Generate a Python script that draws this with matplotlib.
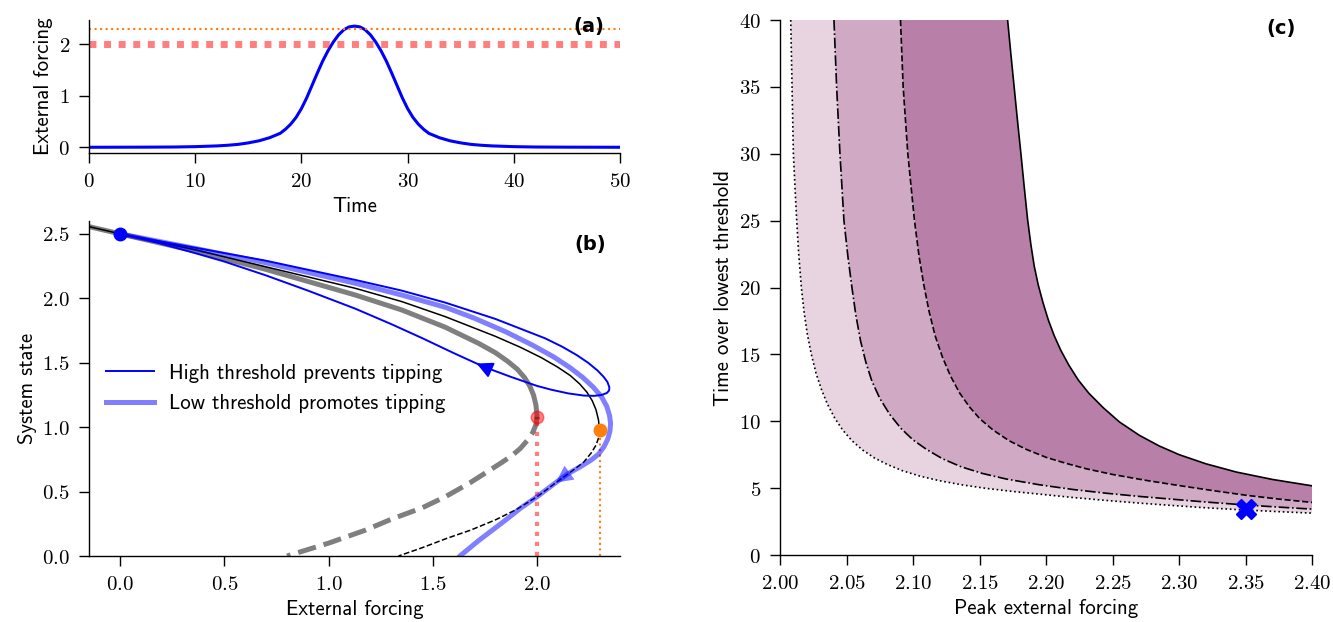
import numpy as np
import matplotlib
matplotlib.use('Agg')
import matplotlib.pyplot as plt
from matplotlib.ticker import FuncFormatter

plt.rcParams['font.family'] = ['cmss10', 'DejaVu Sans']
plt.rcParams['mathtext.fontset'] = 'cm'
plt.rcParams['axes.unicode_minus'] = False
plt.rcParams['font.size'] = 15
plt.rcParams['axes.spines.top'] = False
plt.rcParams['axes.spines.right'] = False
plt.rcParams['axes.linewidth'] = 1.0
for ax_name in ['xtick', 'ytick']:
    plt.rcParams[ax_name + '.major.size'] = 7.2
    plt.rcParams[ax_name + '.major.width'] = 1.0
    plt.rcParams[ax_name + '.major.pad'] = 6.5

# ---- (a) forcing over time ----
time = [0, 5, 8, 10, 12, 13, 14, 15, 16, 17, 18, 18.5, 19, 19.5, 20, 20.5, 21, 21.5,
        22, 22.5, 23, 23.5, 24, 24.5, 25, 25.5, 26, 26.5, 27, 27.5, 28, 28.5, 29,
        29.5, 30, 30.5, 31, 31.5, 32, 33, 34, 35, 36, 37, 38, 40, 42, 45, 50]
forcing = [0.0, 0.002, 0.005, 0.012, 0.026, 0.038, 0.055, 0.085, 0.125, 0.185, 0.27, 0.35,
           0.45, 0.58, 0.75, 0.96, 1.2, 1.44, 1.67, 1.87, 2.04, 2.18, 2.28, 2.335, 2.35,
           2.335, 2.28, 2.18, 2.04, 1.87, 1.67, 1.44, 1.2, 0.96, 0.75, 0.58, 0.45, 0.35,
           0.27, 0.185, 0.125, 0.085, 0.055, 0.038, 0.026, 0.012, 0.005, 0.002, 0.0]
low_threshold = 2.0
high_threshold = 2.3

# ---- (b) bifurcation diagrams and trajectories ----
# low threshold system (grey), stable branch ending at the fold
low_stable_f = [-0.2, 0.0, 0.35, 0.695, 1.127, 1.35, 1.559, 1.72, 1.80, 1.86, 1.905, 1.94,
                1.965, 1.983, 1.995, 2.0]
low_stable_s = [2.575, 2.5, 2.37, 2.226, 2.026, 1.91, 1.776, 1.65, 1.578, 1.51, 1.45, 1.385,
                1.32, 1.25, 1.17, 1.08]
low_unstable_f = [2.0, 1.995, 1.98, 1.955, 1.92, 1.88, 1.83, 1.775, 1.68, 1.56, 1.45, 1.3,
                  1.175, 1.0, 0.8]
low_unstable_s = [1.08, 1.02, 0.96, 0.90, 0.835, 0.78, 0.725, 0.668, 0.57, 0.46, 0.375,
                  0.285, 0.2, 0.1, 0.0]
# high threshold system (black)
high_stable_f = [-0.2, 0.0, 0.35, 0.695, 1.127, 1.35, 1.559, 1.8, 1.92, 2.02, 2.10, 2.16,
                 2.205, 2.24, 2.265, 2.283, 2.295, 2.3]
high_stable_s = [2.575, 2.5, 2.38, 2.246, 2.078, 1.975, 1.858, 1.705, 1.62, 1.54, 1.465,
                 1.40, 1.335, 1.27, 1.205, 1.135, 1.055, 0.98]
high_unstable_f = [2.3, 2.296, 2.283, 2.26, 2.225, 2.185, 2.1, 2.0, 1.9, 1.8, 1.68, 1.567,
                   1.45, 1.335]
high_unstable_s = [0.98, 0.92, 0.86, 0.80, 0.73, 0.68, 0.58, 0.46, 0.36, 0.28, 0.2, 0.137,
                   0.065, 0.0]
# trajectories
traj_high_f = [0.0, 0.3, 0.695, 1.127, 1.35, 1.559, 1.8, 2.038, 2.12, 2.19, 2.245, 2.29,
               2.32, 2.338, 2.347, 2.346, 2.335, 2.31, 2.275, 2.225, 2.15, 2.07, 2.0, 1.875,
               1.75, 1.71, 1.6, 1.45, 1.3, 1.127, 0.9, 0.695, 0.5, 0.35, 0.17, 0.0]
traj_high_s = [2.5, 2.41, 2.293, 2.143, 2.06, 1.967, 1.84, 1.69, 1.625, 1.56, 1.5, 1.44,
               1.39, 1.35, 1.31, 1.285, 1.265, 1.25, 1.243, 1.245, 1.262, 1.29, 1.32, 1.39,
               1.465, 1.494, 1.575, 1.69, 1.80, 1.92, 2.06, 2.18, 2.285, 2.355, 2.435, 2.5]
traj_low_f = [0.0, 0.35, 0.695, 1.127, 1.35, 1.559, 1.7, 1.85, 1.98, 2.08, 2.16, 2.22,
              2.27, 2.31, 2.335, 2.348, 2.353, 2.35, 2.34, 2.322, 2.295, 2.26, 2.21, 2.15,
              2.09, 2.0, 1.92, 1.85, 1.72, 1.63, 1.6]
traj_low_s = [2.5, 2.39, 2.277, 2.117, 2.026, 1.931, 1.845, 1.74, 1.635, 1.545, 1.46, 1.385,
              1.31, 1.235, 1.16, 1.09, 1.03, 0.97, 0.91, 0.85, 0.79, 0.745, 0.695, 0.64,
              0.57, 0.46, 0.37, 0.28, 0.12, 0.0, -0.05]
arrow_high = 25   # index of arrow tip on the high-threshold trajectory
arrow_low = 24    # index of arrow tip on the low-threshold trajectory

# ---- (c) tipping boundaries ----
dotted_f = [2.008, 2.009, 2.010, 2.0112, 2.0125, 2.014, 2.016, 2.018, 2.0205, 2.0235, 2.027,
            2.031, 2.0355, 2.041, 2.047, 2.054, 2.062, 2.071, 2.081, 2.092, 2.105, 2.12,
            2.137, 2.155, 2.175, 2.195, 2.22, 2.245, 2.27, 2.295, 2.32, 2.35, 2.375, 2.40]
dotted_t = [40, 35, 30, 27.5, 25, 22.5, 20, 18.2, 16.5, 15.0, 13.6, 12.4, 11.3, 10.25, 9.35,
            8.55, 7.85, 7.25, 6.75, 6.3, 5.9, 5.55, 5.24, 4.98, 4.75, 4.55, 4.3, 4.08, 3.88,
            3.7, 3.53, 3.36, 3.24, 3.13]
dashdot_f = [2.0405, 2.0425, 2.045, 2.048, 2.051, 2.054, 2.057, 2.0605, 2.0645, 2.069, 2.075,
             2.0825, 2.091, 2.10, 2.11, 2.122, 2.136, 2.152, 2.17, 2.195, 2.22, 2.245, 2.27,
             2.295, 2.32, 2.35, 2.375, 2.40]
dashdot_t = [40, 35, 30, 25, 22.3, 20, 17.9, 16.0, 14.4, 13.0, 11.7, 10.5, 9.45, 8.6, 7.9,
             7.2, 6.6, 6.1, 5.68, 5.25, 4.9, 4.62, 4.38, 4.17, 3.96, 3.74, 3.58, 3.43]
dashed_f = [2.0905, 2.0925, 2.096, 2.101, 2.1045, 2.108, 2.112, 2.1165, 2.122, 2.128, 2.135,
            2.1425, 2.15, 2.16, 2.172, 2.185, 2.2, 2.215, 2.23, 2.25, 2.275, 2.30, 2.325,
            2.35, 2.375, 2.40]
dashed_t = [40, 35, 30, 25, 22.3, 20.2, 18.2, 16.4, 14.8, 13.4, 12.1, 11.05, 10.2, 9.35,
            8.55, 7.9, 7.3, 6.85, 6.45, 6.02, 5.58, 5.19, 4.82, 4.47, 4.18, 3.93]
solid_f = [2.171, 2.1735, 2.176, 2.1785, 2.181, 2.1835, 2.186, 2.1885, 2.191, 2.194, 2.1975,
           2.2015, 2.206, 2.211, 2.217, 2.224, 2.232, 2.243, 2.255, 2.27, 2.285, 2.30, 2.32,
           2.343, 2.37, 2.40]
solid_t = [40, 37.4, 34.9, 32.4, 30, 27.5, 25.1, 23.2, 21.6, 20.2, 18.9, 17.6, 16.4, 15.3,
           14.2, 13.1, 12.1, 11.0, 9.95, 8.95, 8.15, 7.5, 6.82, 6.2, 5.65, 5.17]
example_peak = 2.35
example_time = 3.43

fill_colors = ['#e8d4e1', '#d0a9c5', '#b880a8']

fig = plt.figure(figsize=(13.33, 6.22), dpi=100)
ax_a = fig.add_axes([0.0668, 0.7535, 0.3983, 0.2143])
ax_b = fig.add_axes([0.0668, 0.1061, 0.3986, 0.5386])
ax_c = fig.add_axes([0.5852, 0.1077, 0.3993, 0.8601])

# panel a
ax_a.plot(time, forcing, color='blue', lw=2.2)
ax_a.axhline(high_threshold, color='C1', ls=':', lw=1.5)
ax_a.axhline(low_threshold, color='red', alpha=0.5, ls=(0, (1, 1.1)), lw=5)
ax_a.set_xlim(0, 50)
ax_a.set_xticks([0, 10, 20, 30, 40, 50])
ax_a.set_yticks([0, 1, 2])
ax_a.xaxis.set_major_formatter(FuncFormatter(lambda v, p: f'${v:.0f}$'))
ax_a.yaxis.set_major_formatter(FuncFormatter(lambda v, p: f'${v:.0f}$'))
ax_a.set_xlabel('Time')
ax_a.set_ylabel('External forcing')
ax_a.text(0.97, 0.95, '(a)', transform=ax_a.transAxes, ha='right', va='center',
          fontweight='bold', family='DejaVu Sans', fontsize=14)

# panel b
ax_b.plot(low_stable_f, low_stable_s, color='k', alpha=0.5, lw=3.6)
ax_b.plot(low_unstable_f, low_unstable_s, color='k', alpha=0.5, lw=3.6, ls='--')
ax_b.plot(high_stable_f, high_stable_s, color='k', lw=1.1)
ax_b.plot(high_unstable_f, high_unstable_s, color='k', lw=1.1, ls='--')
ax_b.plot([low_stable_f[-1]] * 2, [0, low_stable_s[-1]], color='red', alpha=0.5,
          ls=(0, (1, 1.4)), lw=3)
ax_b.plot([high_stable_f[-1]] * 2, [0, high_stable_s[-1]], color='C1', ls=':', lw=1.5)
ax_b.plot(traj_low_f, traj_low_s, color='blue', alpha=0.5, lw=3.6,
          label='Low threshold promotes tipping')
ax_b.plot(traj_high_f, traj_high_s, color='blue', lw=1.4,
          label='High threshold prevents tipping')
ax_b.annotate('', xy=(traj_high_f[arrow_high], traj_high_s[arrow_high]),
              xytext=(traj_high_f[arrow_high - 1], traj_high_s[arrow_high - 1]),
              arrowprops=dict(arrowstyle='-|>', color='blue', mutation_scale=24,
                              shrinkA=0, shrinkB=0, lw=1.4))
ax_b.annotate('', xy=(traj_low_f[arrow_low], traj_low_s[arrow_low]),
              xytext=(traj_low_f[arrow_low - 1], traj_low_s[arrow_low - 1]),
              arrowprops=dict(arrowstyle='-|>', color='blue', alpha=0.5, mutation_scale=30,
                              shrinkA=0, shrinkB=0, lw=0.1))
ax_b.plot(traj_high_f[0], traj_high_s[0], 'o', color='blue', ms=9, zorder=5)
ax_b.plot(low_stable_f[-1], low_stable_s[-1], 'o', color='red', alpha=0.5, ms=9, zorder=5)
ax_b.plot(high_stable_f[-1], high_stable_s[-1], 'o', color='C1', ms=9, zorder=5)
ax_b.set_xlim(-0.15, 2.4)
ax_b.set_ylim(0, 2.6)
ax_b.set_xticks([0, 0.5, 1.0, 1.5, 2.0])
ax_b.set_yticks([0, 0.5, 1.0, 1.5, 2.0, 2.5])
ax_b.xaxis.set_major_formatter(FuncFormatter(lambda v, p: f'${v:.1f}$'))
ax_b.yaxis.set_major_formatter(FuncFormatter(lambda v, p: f'${v:.1f}$'))
ax_b.set_xlabel('External forcing')
ax_b.set_ylabel('System state')
handles, labels = ax_b.get_legend_handles_labels()
ax_b.legend(handles[::-1], labels[::-1], frameon=False, loc='center left',
            bbox_to_anchor=(-0.004, 0.5), handlelength=2.3, handletextpad=0.75,
            labelspacing=0.55)
ax_b.text(0.972, 0.931, '(b)', transform=ax_b.transAxes, ha='right', va='center',
          fontweight='bold', family='DejaVu Sans', fontsize=14)

# panel c
curves = [(dotted_f, dotted_t), (dashdot_f, dashdot_t), (dashed_f, dashed_t), (solid_f, solid_t)]
for (f1, t1), (f2, t2), col in zip(curves[:-1], curves[1:], fill_colors):
    ax_c.fill(np.r_[f1, f2[::-1]], np.r_[t1, t2[::-1]], color=col, lw=0)
ax_c.plot(dotted_f, dotted_t, color='k', ls=':', lw=1.2)
ax_c.plot(dashdot_f, dashdot_t, color='k', ls='-.', lw=1.2)
ax_c.plot(dashed_f, dashed_t, color='k', ls='--', lw=1.2)
ax_c.plot(solid_f, solid_t, color='k', ls='-', lw=1.2)
ax_c.plot(example_peak, example_time, 'X', color='blue', ms=15, zorder=5)
ax_c.set_xlim(2.0, 2.4)
ax_c.set_ylim(0, 40)
ax_c.set_xticks(np.arange(2.0, 2.401, 0.05))
ax_c.set_yticks(range(0, 41, 5))
ax_c.xaxis.set_major_formatter(FuncFormatter(lambda v, p: f'${v:.2f}$'))
ax_c.yaxis.set_major_formatter(FuncFormatter(lambda v, p: f'${v:.0f}$'))
ax_c.set_xlabel('Peak external forcing')
ax_c.set_ylabel('Time over lowest threshold')
ax_c.text(0.969, 0.984, '(c)', transform=ax_c.transAxes, ha='right', va='center',
          fontweight='bold', family='DejaVu Sans', fontsize=14)

fig.savefig('out.png', dpi=100)
